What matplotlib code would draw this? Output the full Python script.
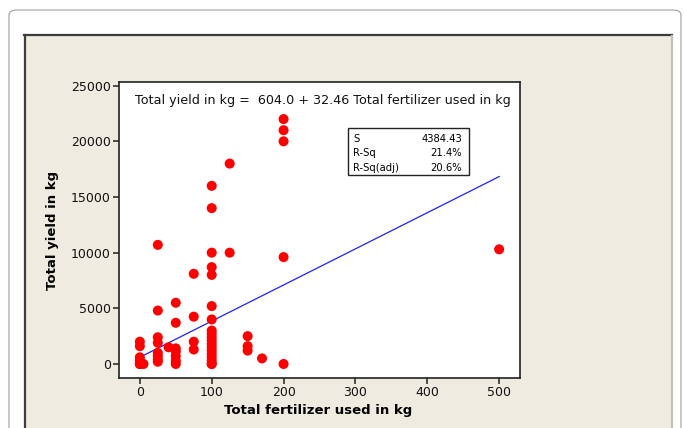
import matplotlib
matplotlib.use("Agg")
import matplotlib.pyplot as plt
from matplotlib.patches import FancyBboxPatch, Rectangle
import numpy as np

# fertilizer (kg) and yield (kg)
fertilizer = [0, 0, 0, 0, 0, 0, 5,
              25, 25, 25, 25, 25, 25, 25, 25,
              40,
              50, 50, 50, 50, 50, 50, 50,
              75, 75, 75, 75,
              100, 100, 100, 100, 100, 100, 100, 100, 100, 100, 100,
              100, 100, 100, 100, 100, 100, 100, 100,
              125, 125,
              150, 150, 150,
              170,
              200, 200, 200, 200, 200,
              500]
yield_kg = [2000, 1600, 600, 300, 0, 0, 0,
            10700, 4800, 2400, 1900, 1000, 700, 400, 200,
            1500,
            5500, 3700, 1400, 1100, 700, 300, 0,
            8100, 4250, 2000, 1300,
            3000, 2700, 2400, 2100, 1800, 1500, 1200, 900, 600, 300, 0,
            16000, 14000, 10000, 8700, 8000, 5200, 4000, 0,
            18000, 10000,
            2500, 1600, 1200,
            500,
            22000, 21000, 20000, 9600, 0,
            10300]

intercept = 604.0
slope = 32.46
stat_names = ["S", "R-Sq", "R-Sq(adj)"]
stat_values = ["4384.43", "21.4%", "20.6%"]

W, H = 684, 428
fig = plt.figure(figsize=(W / 100, H / 100), dpi=100)
fig.patch.set_facecolor("white")

def fx(px):
    return px / W

def fy(py):
    return 1 - py / H

# outer rounded card
card = FancyBboxPatch((fx(9), fy(440)), fx(672), 430 / H,
                      boxstyle="round,pad=0,rounding_size=0.012",
                      transform=fig.transFigure, facecolor="white",
                      edgecolor="#a8a8a8", lw=0.9, zorder=0)
fig.patches.append(card)

# beige panel with its frame lines
panel = Rectangle((fx(24), fy(440)), fx(648), 405 / H, transform=fig.transFigure,
                  facecolor="#f0ebe1", edgecolor="none", zorder=0.5)
fig.patches.append(panel)
fig.add_artist(plt.Line2D([fx(24), fx(672)], [fy(35), fy(35)], transform=fig.transFigure,
                          color="#3c3c3c", lw=1.6, zorder=1))
fig.add_artist(plt.Line2D([fx(24.5), fx(24.5)], [fy(35), fy(440)], transform=fig.transFigure,
                          color="#3c3c3c", lw=1.6, zorder=1))
fig.add_artist(plt.Line2D([fx(672), fx(672)], [fy(36), fy(440)], transform=fig.transFigure,
                          color="#c4c0b8", lw=1.6, zorder=1))

ax = fig.add_axes([fx(119), fy(378), fx(401), 296 / H])
ax.set_zorder(3)
ax.set_facecolor("white")

ax.scatter(fertilizer, yield_kg, s=52, color="#ff0000", edgecolors="none", zorder=3)

xs = np.array([min(fertilizer), max(fertilizer)])
ax.plot(xs, intercept + slope * xs, color="#2020ff", lw=0.9, zorder=2)

ax.set_xlim(-29, 529)
ax.set_ylim(-1260, 25330)
ax.set_xticks([0, 100, 200, 300, 400, 500])
ax.set_yticks([0, 5000, 10000, 15000, 20000, 25000])

for sp in ax.spines.values():
    sp.set_color("#222222")
    sp.set_linewidth(1.2)
ax.tick_params(axis="both", direction="out", length=4, width=1.1, color="#222222",
               labelsize=9, labelcolor="#111111", pad=2)

ax.set_xlabel("Total fertilizer used in kg", fontsize=9.5, fontweight="bold")
ax.set_ylabel("Total yield in kg", fontsize=9.5, fontweight="bold")
ax.xaxis.set_label_coords(0.496, -0.087)
ax.yaxis.set_label_coords(-0.15, 0.5)

ax.text(0.04, 0.937, "Total yield in kg =  604.0 + 32.46 Total fertilizer used in kg",
        transform=ax.transAxes, fontsize=9.2, va="center", ha="left", color="#111111")

# stats box
box = Rectangle((fx(348), fy(175)), fx(121), 47 / H, transform=fig.transFigure,
                facecolor="white", edgecolor="#222222", lw=1.0, zorder=5)
fig.patches.append(box)
for i, (n, v) in enumerate(zip(stat_names, stat_values)):
    yy = fy(139 + i * 14.3)
    fig.text(fx(353), yy, n, fontsize=7.2, va="center", ha="left", zorder=6)
    fig.text(fx(462), yy, v, fontsize=7.2, va="center", ha="right", zorder=6)

fig.savefig("out.png", dpi=100)
